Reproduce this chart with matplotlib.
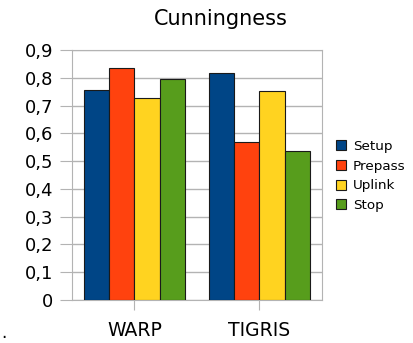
import matplotlib.pyplot as plt
import numpy as np

# data
categories = ['WARP', 'TIGRIS']
series = ['Setup', 'Prepass', 'Uplink', 'Stop']
setup = [0.755, 0.817]
prepass = [0.834, 0.570]
uplink = [0.727, 0.751]
stop = [0.794, 0.535]
colors = ['#004586', '#ff420e', '#ffd320', '#579d1c']
yticks = [0, 0.1, 0.2, 0.3, 0.4, 0.5, 0.6, 0.7, 0.8, 0.9]
ytick_labels = ['0', '0,1', '0,2', '0,3', '0,4', '0,5', '0,6', '0,7', '0,8', '0,9']

fig = plt.figure(figsize=(4.14, 3.43), dpi=100)
ax = fig.add_axes([72 / 414, 1 - 300 / 343, 250 / 414, 250 / 343])

x = np.arange(len(categories))
width = 0.202
for i, (name, vals) in enumerate(zip(series, [setup, prepass, uplink, stop])):
    ax.bar(x + (i - 1.5) * width, vals, width, color=colors[i], label=name,
           edgecolor='#1a1a1a', linewidth=0.8, zorder=3)

ax.set_xlim(-0.5, 1.5)
ax.set_ylim(0, 0.9)
ax.set_yticks(yticks)
ax.set_yticklabels(ytick_labels)
ax.set_xticks(x)
ax.set_xticklabels(categories)
ax.grid(axis='y', color='#b3b3b3', linewidth=1, zorder=0)
for s in ax.spines.values():
    s.set_color('#b3b3b3')
ax.tick_params(axis='y', length=8.5, color='#b3b3b3', labelsize=13, pad=5)
ax.tick_params(axis='x', length=7, color='#b3b3b3', labelsize=13.5, pad=8)

fig.text(0.534, 1 - 19 / 343, 'Cunningness', ha='center', va='center', fontsize=15)
fig.text(0.004, 0.015, '.', fontsize=12)

ax.legend(loc='center left', bbox_to_anchor=(336 / 414, 1 - 176 / 343),
          bbox_transform=fig.transFigure, frameon=False, fontsize=9.7,
          handlelength=0.75, handleheight=0.75, handletextpad=0.5,
          labelspacing=0.5, borderpad=0, borderaxespad=0)

plt.savefig('out.png', dpi=100)
